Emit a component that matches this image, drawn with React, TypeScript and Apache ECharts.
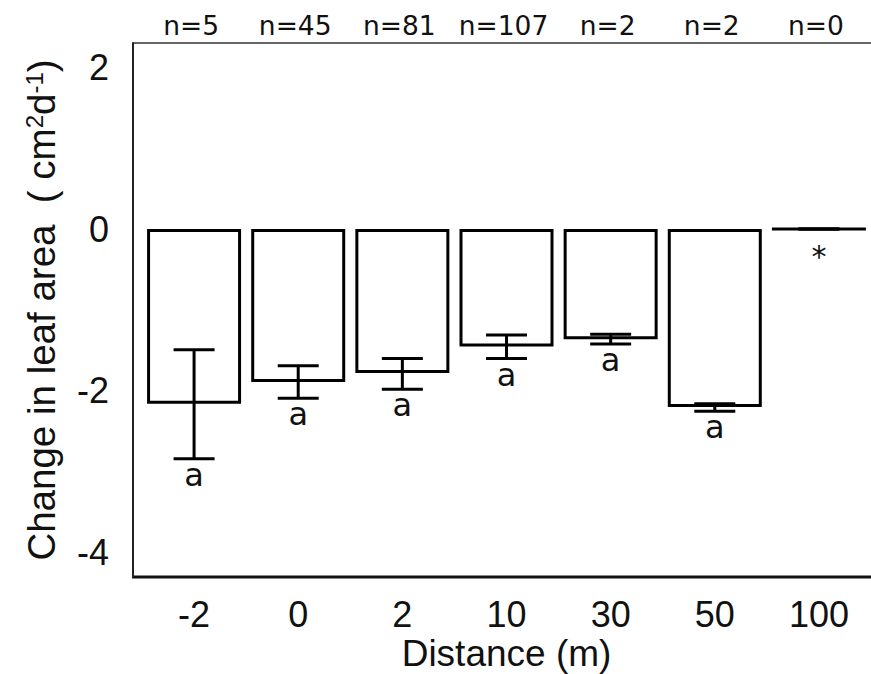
import React, { useEffect, useRef } from "react";
import * as echarts from "echarts";

const categories = ["-2", "0", "2", "10", "30", "50", "100"];
const meanChange = [-2.16, -1.89, -1.78, -1.45, -1.36, -2.2, 0];
const errHigh = [-1.49, -1.69, -1.6, -1.31, -1.3, -2.16, 0];
const errLow = [-2.84, -2.09, -1.98, -1.6, -1.42, -2.25, 0];
const sampleSizes = [5, 45, 81, 107, 2, 2, 0];
const groupLetters = ["a", "a", "a", "a", "a", "a", "*"];
const yTickValues = [-4, -2, 0, 2];

const AXIS_FONT = "'Liberation Sans', Arial, Helvetica, sans-serif";
const NOTE_FONT = "'DejaVu Sans', Verdana, sans-serif";

export default function App() {
  const ref = useRef<HTMLDivElement>(null);

  useEffect(() => {
    if (!ref.current) return;
    const chart = echarts.init(ref.current, undefined, { renderer: "svg" });

    const errData = categories.map((_, i) => [i, errLow[i], errHigh[i], i]);
    const nData = categories.map((_, i) => [i, 0, i]);

    chart.setOption({
      animation: false,
      backgroundColor: "#ffffff",
      grid: {
        left: 142,
        right: 0,
        top: 43,
        bottom: 97,
        containLabel: false,
        outerBoundsMode: "none",
      },
      xAxis: {
        type: "category",
        data: categories,
        axisLine: { show: false },
        axisTick: { show: false },
        axisLabel: {
          color: "#111",
          fontSize: 36,
          fontFamily: AXIS_FONT,
          margin: 19,
        },
        name: "Distance (m)",
        nameLocation: "middle",
        nameMoveOverlap: false,
        nameGap: 58,
        nameTextStyle: { color: "#111", fontSize: 37, fontFamily: AXIS_FONT },
      },
      yAxis: {
        type: "value",
        min: -4.3,
        max: 2.3,
        offset: 9,
        axisLine: { show: true, lineStyle: { color: "#222", width: 2 } },
        axisTick: { show: false },
        splitLine: { show: false },
        axisLabel: {
          customValues: yTickValues,
          color: "#111",
          fontSize: 36,
          fontFamily: AXIS_FONT,
          margin: 24,
          padding: [7, 0, 0, 0],
        },
        name: "Change in leaf area  ( cm{sup|2}d{sup|-1})",
        nameLocation: "middle",
        nameMoveOverlap: false,
        nameGap: 72,
        nameTextStyle: {
          color: "#111",
          fontSize: 38.5,
          fontFamily: AXIS_FONT,
          rich: {
            sup: {
              fontSize: 24,
              fontFamily: AXIS_FONT,
              color: "#111",
              verticalAlign: "top",
            },
          },
        },
      },
      graphic: [
        {
          type: "line",
          shape: { x1: 133, y1: 43, x2: 871, y2: 43 },
          style: { stroke: "#333", lineWidth: 1.5 },
          silent: true,
        },
        {
          type: "line",
          shape: { x1: 132, y1: 577, x2: 871, y2: 577 },
          style: { stroke: "#111", lineWidth: 3 },
          silent: true,
        },
      ],
      series: [
        {
          type: "bar",
          data: meanChange,
          barWidth: 94,
          itemStyle: {
            color: "rgba(255,255,255,0)",
            borderColor: "#000",
            borderWidth: 3,
          },
          silent: true,
        },
        {
          type: "custom",
          clip: false,
          data: errData,
          encode: { x: 0, y: [1, 2] },
          renderItem: (params: any, api: any) => {
            const idx = api.value(0);
            const lo = api.coord([idx, api.value(1)]);
            const hi = api.coord([idx, api.value(2)]);
            const half = 20.5;
            const letter = groupLetters[api.value(3)];
            const isStar = letter === "*";
            const stroke = { stroke: "#000", lineWidth: 3 };
            return {
              type: "group",
              children: [
                {
                  type: "line",
                  shape: { x1: lo[0], y1: lo[1], x2: hi[0], y2: hi[1] },
                  style: stroke,
                },
                {
                  type: "line",
                  shape: { x1: lo[0] - half, y1: lo[1], x2: lo[0] + half, y2: lo[1] },
                  style: stroke,
                },
                {
                  type: "line",
                  shape: { x1: hi[0] - half, y1: hi[1], x2: hi[0] + half, y2: hi[1] },
                  style: stroke,
                },
                {
                  type: "text",
                  x: lo[0],
                  y: lo[1] + (isStar ? 27 : 16),
                  style: {
                    text: letter,
                    fill: "#111",
                    font: `${isStar ? 30 : 32}px ${NOTE_FONT}`,
                    align: "center",
                    verticalAlign: "middle",
                  },
                },
              ],
            };
          },
          silent: true,
        },
        {
          type: "custom",
          clip: false,
          data: nData,
          encode: { x: 0, y: 1 },
          renderItem: (params: any, api: any) => {
            const idx = api.value(0);
            const p = api.coord([idx, 0]);
            return {
              type: "text",
              x: p[0] - 3,
              y: params.coordSys.y - 18,
              style: {
                text: `n=${sampleSizes[api.value(2)]}`,
                fill: "#111",
                font: `26.5px ${NOTE_FONT}`,
                align: "center",
                verticalAlign: "middle",
              },
            };
          },
          silent: true,
        },
      ],
    });

    return () => chart.dispose();
  }, []);

  return (
    <div
      ref={ref}
      style={{ position: "absolute", left: 0, top: 0, width: 871, height: 674 }}
    />
  );
}
